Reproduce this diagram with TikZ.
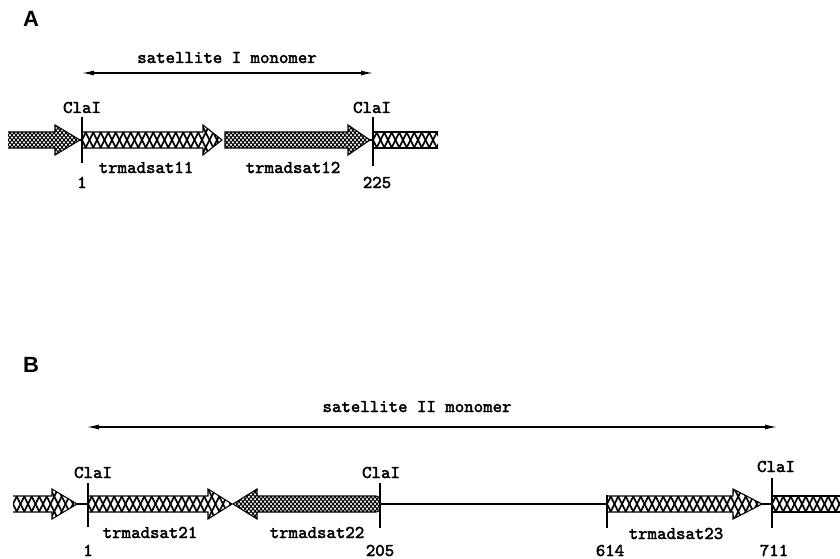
\documentclass[tikz,border=0pt]{standalone}
\usepackage{fontspec}
\newfontfamily\labfnt{Liberation Sans}
\newfontfamily\monofnt[FakeBold=2.2]{lmmono10-regular.otf}
\usetikzlibrary{arrows.meta}
\tikzset{
  lbl/.style={font=\monofnt\fontsize{18}{20}\selectfont, inner sep=0pt, anchor=base},
  panel/.style={font=\labfnt\bfseries\fontsize{22}{24}\selectfont, inner sep=0pt, anchor=base},
  site/.style={line width=1.3pt},
  span/.style={line width=1.2pt, {Latex[length=12pt,width=5pt]}-{Latex[length=12pt,width=5pt]}},
  link/.style={line width=2.2pt},
  outline/.style={line width=1.1pt, line join=miter},
}
% #1 path, #2 start x, #3 centre y, #4 pitch, #5 slope, #6 line width
\newcommand{\hatched}[6]{%
  \begin{scope}
    \clip #1;
    \fill[white] (0,#3-30) rectangle (840,#3+30);
    \foreach \k [evaluate=\k as \xx using {#2+(\k-4)*#4}] in {0,...,60} {
      \draw[line width=#6] (\xx-20/#5, #3-20) -- (\xx+20/#5, #3+20);
      \draw[line width=#6] (\xx+20/#5, #3-20) -- (\xx-20/#5, #3+20);
    }
  \end{scope}
  \draw[outline] #1;
}
\begin{document}
\begin{tikzpicture}[x=1pt,y=-1pt]
\useasboundingbox (0,0) rectangle (840,559);

% ---------------- Panel A ----------------
\node[panel] (pA) at (31,27) {A};
\node[lbl] (tA) at (227,63) {satellite I monomer};
\coordinate (aL) at (82,73);
\coordinate (aR) at (373,73);
\draw[span] (aL) -- (aR);

\node[lbl] (claA1) at (82,113) {ClaI};
\node[lbl] (claA2) at (372,113) {ClaI};
\coordinate (sA1t) at (82,117); \coordinate (sA1b) at (82,163);
\coordinate (sA2t) at (373,117); \coordinate (sA2b) at (373,166);

% left flank
\hatched{(8,132) -- (55,132) -- (55,125) -- (80,140) -- (55,155) -- (55,148) -- (8,148)}{8}{140}{4}{1.2}{1.0}
\coordinate (lAtip) at (80,140); \coordinate (lAsite) at (82,140);
\draw[link] (lAtip) -- (lAsite);
% trmadsat11
\hatched{(82,132) -- (203,132) -- (203,125) -- (222,140) -- (203,155) -- (203,148) -- (82,148) -- cycle}{82}{140}{7.5}{2}{1.6}
% trmadsat12
\hatched{(225,132) -- (348,132) -- (348,125) -- (370,140) -- (348,155) -- (348,148) -- (225,148) -- cycle}{225}{140}{4}{1.2}{1.0}
\coordinate (s12tip) at (370,140); \coordinate (rAsite) at (373,140);
\draw[link] (s12tip) -- (rAsite);
% right flank
\hatched{(438,132) -- (373,132) -- (373,148) -- (438,148)}{373}{140}{7.5}{2}{1.6}

\draw[site] (sA1t) -- (sA1b);
\draw[site] (sA2t) -- (sA2b);

\node[lbl] (n11) at (146,173) {trmadsat11};
\node[lbl] (n12) at (293,173) {trmadsat12};
\node[lbl] (pA1) at (82,188) {1};
\node[lbl] (pA225) at (377,188) {225};

% ---------------- Panel B ----------------
\node[panel] (pB) at (31,372) {B};
\node[lbl] (tB) at (417,412) {satellite II monomer};
\coordinate (bL) at (87,427);
\coordinate (bR) at (777,427);
\draw[span] (bL) -- (bR);

\node[lbl] (claB1) at (93,478) {ClaI};
\node[lbl] (claB2) at (381,478) {ClaI};
\node[lbl] (claB3) at (776,472) {ClaI};
\coordinate (sB1t) at (88,483); \coordinate (sB1b) at (88,527);
\coordinate (sB2t) at (380,483); \coordinate (sB2b) at (380,528);
\coordinate (sB3t) at (607,495); \coordinate (sB3b) at (607,528);
\coordinate (sB4t) at (772,478); \coordinate (sB4b) at (772,528);

% left flank
\hatched{(13,496) -- (52,496) -- (52,489) -- (77,504) -- (52,519) -- (52,512) -- (13,512)}{13}{504}{7.5}{2}{1.6}
\coordinate (lBtip) at (77,504); \coordinate (lBsite) at (88,504);
\draw[link] (lBtip) -- (lBsite);
% trmadsat21
\hatched{(88,496) -- (208,496) -- (208,489) -- (232,504) -- (208,519) -- (208,512) -- (88,512) -- cycle}{88}{504}{7.5}{2}{1.6}
% trmadsat22 (reverse)
\hatched{(233,504) -- (257,489) -- (257,496) -- (376,496) .. controls (382,496) and (382,512) .. (376,512) -- (257,512) -- (257,519) -- cycle}{233}{504}{4}{1.2}{1.0}
% spacer line
\coordinate (s22end) at (380,504); \coordinate (s23start) at (607,504);
\draw[link] (s22end) -- (s23start);
% trmadsat23
\hatched{(607,496) -- (733,496) -- (733,489) -- (762,504) -- (733,519) -- (733,512) -- (607,512) -- cycle}{607}{504}{7.5}{2}{1.6}
\coordinate (s23tip) at (762,504); \coordinate (rBsite) at (772,504);
\draw[link] (s23tip) -- (rBsite);
% right flank
\hatched{(841,496) -- (772,496) -- (772,512) -- (841,512)}{772}{504}{7.5}{2}{1.6}

\draw[site] (sB1t) -- (sB1b);
\draw[site] (sB2t) -- (sB2b);
\draw[site] (sB3t) -- (sB3b);
\draw[site] (sB4t) -- (sB4b);

\node[lbl] (n21) at (150,538) {trmadsat21};
\node[lbl] (n22) at (317,538) {trmadsat22};
\node[lbl] (n23) at (676,539) {trmadsat23};
\node[lbl] (pB1) at (88,556) {1};
\node[lbl] (pB205) at (380,556) {205};
\node[lbl] (pB614) at (610,556) {614};
\node[lbl] (pB711) at (774,556) {711};
\end{tikzpicture}
\end{document}
